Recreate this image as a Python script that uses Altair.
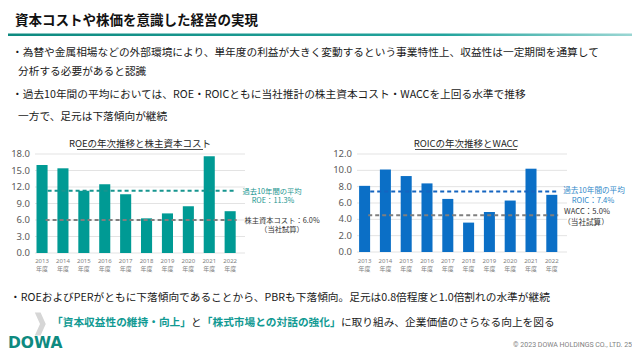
import altair as alt
import pandas as pd

# ---------------- data ----------------
years = ["2013", "2014", "2015", "2016", "2017", "2018", "2019", "2020", "2021", "2022"]
roe = [16.0, 15.4, 11.3, 12.5, 10.7, 6.3, 7.2, 8.5, 17.6, 7.6]
roic = [8.1, 10.1, 9.3, 8.4, 6.5, 3.6, 4.9, 6.3, 10.2, 7.0]
roe_ticks = [0, 3, 6, 9, 12, 15, 18]
roic_ticks = [0, 2, 4, 6, 8, 10, 12]
roe_avg = 11.3
roe_cost = 6.0
roic_avg = 7.4
wacc_line = 4.5

title_text = "資本コストや株価を意識した経営の実現"
bullet1a = "・為替や金属相場などの外部環境により、単年度の利益が大きく変動するという事業特性上、収益性は一定期間を通算して"
bullet1b = "分析する必要があると認識"
bullet2a = "・過去10年間の平均においては、ROE・ROICともに当社推計の株主資本コスト・WACCを上回る水準で推移"
bullet2b = "一方で、足元は下落傾向が継続"
bullet3 = "・ROEおよびPERがともに下落傾向であることから、PBRも下落傾向。足元は0.8倍程度と1.0倍割れの水準が継続"
action_parts = ["「資本収益性の維持・向上」", "と", "「株式市場との対話の強化」", "に取り組み、企業価値のさらなる向上を図る"]
left_title = "ROEの年次推移と株主資本コスト"
right_title = "ROICの年次推移とWACC"
nendo = "年度"

JP = "Noto Sans CJK JP"
TEAL = "#009a94"
BLUE = "#0b6fc6"
one = pd.DataFrame({"a": [0]})


def txt(s, x, y, size=10.7, color="#1a1a1a", weight="normal", align="left", font=JP):
    return alt.Chart(one).mark_text(
        text=s, font=font, fontSize=size, color=color, fontWeight=weight,
        align=align, baseline="middle"
    ).encode(x=alt.value(x), y=alt.value(y))


def panel(vals, ticks, avg, cost, xr, yr, color, avg_color, grid_x):
    xs = alt.Scale(domain=years, range=xr, paddingInner=0.47, paddingOuter=0.235)
    ys = alt.Scale(domain=[ticks[0], ticks[-1]], range=yr, nice=False, zero=True)
    tdf = pd.DataFrame({"t": ticks})
    bdf = pd.DataFrame({"year": years, "v": vals})
    grid = alt.Chart(tdf).mark_rule(color="#e3e3e3", strokeWidth=1).encode(
        y=alt.Y("t:Q", scale=ys, axis=None), x=alt.value(grid_x[0]), x2=alt.value(grid_x[1]))
    lab = alt.Chart(tdf).mark_text(align="right", baseline="middle", fontSize=9.5,
                                   color="#595959", font="Noto Sans").encode(
        y=alt.Y("t:Q", scale=ys, axis=None), x=alt.value(grid_x[0] - 5),
        text=alt.Text("t:Q", format=".1f"))
    bars = alt.Chart(bdf).mark_bar(color=color).encode(
        x=alt.X("year:N", scale=xs, axis=None), y=alt.Y("v:Q", scale=ys, axis=None))
    xl1 = alt.Chart(bdf).mark_text(fontSize=6, color="#7f7f7f", baseline="middle", font="Noto Sans").encode(
        x=alt.X("year:N", scale=xs, axis=None), y=alt.value(253), text="year:N")
    xl2 = alt.Chart(bdf).mark_text(text=nendo, fontSize=6, color="#7f7f7f", baseline="middle", font=JP).encode(
        x=alt.X("year:N", scale=xs, axis=None), y=alt.value(261))
    x0 = xr[0] + 16
    x1 = xr[1] - 4
    ravg = alt.Chart(pd.DataFrame({"v": [avg]})).mark_rule(
        color=avg_color, strokeWidth=2, strokeDash=[4, 3]).encode(
        y=alt.Y("v:Q", scale=ys, axis=None), x=alt.value(x0), x2=alt.value(x1))
    rcost = alt.Chart(pd.DataFrame({"v": [cost]})).mark_rule(
        color="#7f7f7f", strokeWidth=2, strokeDash=[4, 3]).encode(
        y=alt.Y("v:Q", scale=ys, axis=None), x=alt.value(x0 - 2), x2=alt.value(x1))
    return [grid, lab, bars, xl1, xl2, ravg, rcost]


layers = []

# header
layers.append(txt(title_text, 7, 13, size=13.5, weight="bold", color="#111111"))
grad = alt.LinearGradient(gradient="linear", x1=0, x2=1, y1=0, y2=0, stops=[
    alt.GradientStop(color="#0e8a80", offset=0),
    alt.GradientStop(color="#23a49d", offset=0.7),
    alt.GradientStop(color="#9ad6d3", offset=1)])
layers.append(alt.Chart(one).mark_rect(color=grad).encode(
    x=alt.value(0), x2=alt.value(624), y=alt.value(25.5), y2=alt.value(28)))

layers.append(txt(bullet1a, 4, 45))
layers.append(txt(bullet1b, 10, 64))
layers.append(txt(bullet2a, 4, 87))
layers.append(txt(bullet2b, 10, 109))

# left panel
layers += panel(roe, roe_ticks, roe_avg, roe_cost, [23.6, 232.6], [245, 146], TEAL, "#17958f", [27, 237])
layers.append(txt(left_title, 132, 136, size=9.5, color="#262626", align="center"))
layers.append(alt.Chart(one).mark_rule(color="#262626", strokeWidth=0.8).encode(
    x=alt.value(69), x2=alt.value(195), y=alt.value(141.5)))
layers.append(txt("過去10年間の平均", 264, 184, size=7.3, color="#17958f", align="center"))
layers.append(txt("ROE：11.3%", 265, 193, size=7.3, color="#17958f", align="center"))
layers.append(txt("株主資本コスト：6.0%", 274, 213, size=7.3, color="#333333", align="center"))
layers.append(txt("（当社試算）", 274, 222, size=7.3, color="#333333", align="center"))

# right panel
layers += panel(roic, roic_ticks, roic_avg, wacc_line, [346.2, 554.2], [244, 146], BLUE, "#1565c0", [349, 559])
layers.append(txt(right_title, 458, 136, size=9.5, color="#262626", align="center"))
layers.append(alt.Chart(one).mark_rule(color="#262626", strokeWidth=0.8).encode(
    x=alt.value(407), x2=alt.value(509), y=alt.value(141.5)))
layers.append(txt("過去10年間の平均", 586, 183, size=7.6, color="#2f88c9", align="center"))
layers.append(txt("ROIC：7.4%", 585, 193, size=7.6, color="#2f88c9", align="center"))
layers.append(txt("WACC：5.0%", 579, 204, size=7.6, color="#333333", align="center"))
layers.append(txt("（当社試算）", 578, 215, size=7.6, color="#333333", align="center"))

# bottom
layers.append(txt(bullet3, 2, 290))
layers.append(alt.Chart(one).mark_point(
    shape="M-0.45,-1 L0.05,-1 L0.5,0 L0.05,1 L-0.45,1 L0,0 Z",
    filled=True, color="#d6d6d6", opacity=1, size=529, strokeWidth=0).encode(
    x=alt.value(32), y=alt.value(316)))
fs = 10.7
xa = 44
layers.append(txt(action_parts[0], xa, 315, size=fs, color="#119a93", weight="bold"))
layers.append(txt(action_parts[1], xa + 13 * fs, 315, size=fs, color="#1a1a1a"))
layers.append(txt(action_parts[2], xa + 14 * fs, 315, size=fs, color="#119a93", weight="bold"))
layers.append(txt(action_parts[3], xa + 27 * fs, 315, size=fs, color="#1a1a1a"))

layers.append(txt("DOWA", 0, 335, size=15.5, color="#0e8a80", weight="bold", font="DejaVu Sans"))
layers.append(txt("© 2023 DOWA HOLDINGS CO., LTD.  25", 624, 337, size=7, color="#7f7f7f",
                  align="right", font="Roboto"))

chart = alt.layer(*layers).resolve_scale(x="independent", y="independent").properties(
    width=624, height=344, padding=0, autosize=alt.AutoSizeParams(type="none")
).configure_view(strokeWidth=0)

chart.save("out.html", embed_options={"renderer": "svg", "actions": False})
